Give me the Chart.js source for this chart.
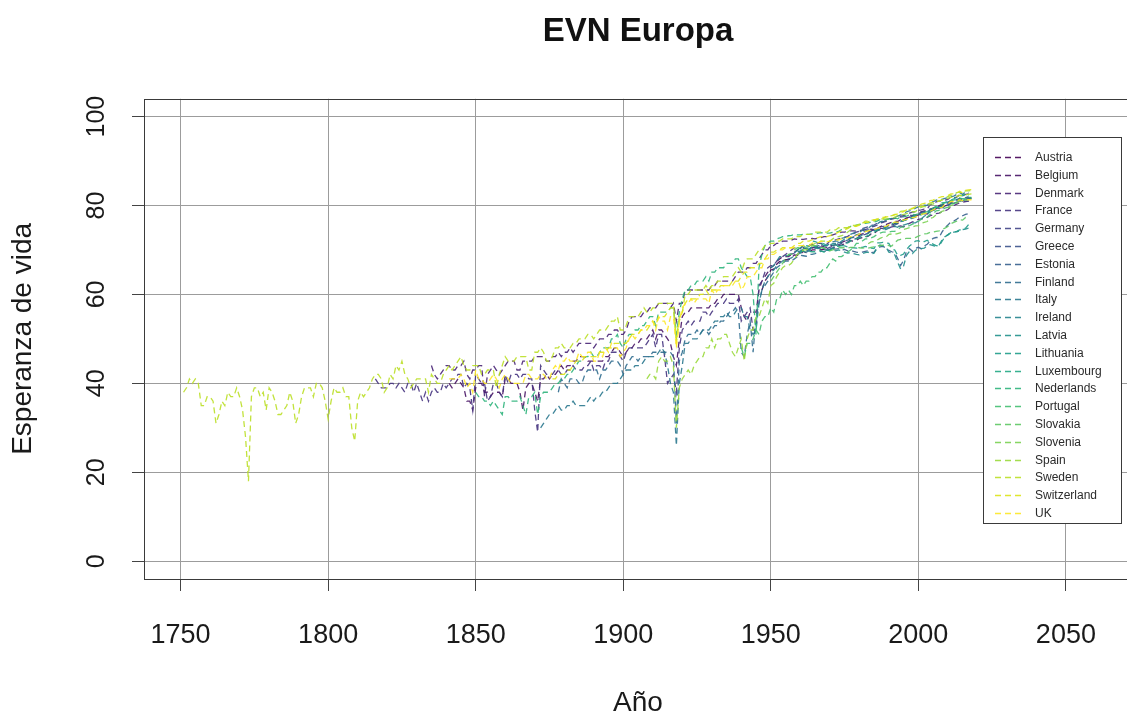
<!DOCTYPE html>
<html>
<head>
<meta charset="utf-8">
<title>EVN Europa</title>
<script src="https://cdn.jsdelivr.net/npm/chart.js@4.4.1/dist/chart.umd.min.js"></script>
<style>
  html, body { margin: 0; padding: 0; background: #ffffff; overflow: hidden; }
  canvas { display: block; }
</style>
</head>
<body>
<canvas id="evn" width="1140" height="715"></canvas>
<script>
// Life expectancy at birth (years), one annual series per country.
const countries = ['Austria', 'Belgium', 'Denmark', 'France', 'Germany', 'Greece', 'Estonia',
  'Finland', 'Italy', 'Ireland', 'Latvia', 'Lithuania', 'Luxembourg', 'Nederlands', 'Portugal',
  'Slovakia', 'Slovenia', 'Spain', 'Sweden', 'Switzerland', 'UK'];

// First year of each series (same order as countries)
const startYears = [1947, 1841, 1835, 1816, 1956, 1981, 1959, 1878, 1872, 1950, 1959, 1959,
  1960, 1850, 1940, 1950, 1983, 1908, 1751, 1876, 1841];

const austria = [61,63,64,65.5,
  65.7,66.8,67.4,67.3,67.8,67.8,68.2,68.9,68.8,69,
  69.7,69.4,69.5,70,70,70.2,70,70.2,70,70.1,
  70.4,70.7,71,71.1,71.4,71.6,72.1,72,72.2,72.6,
  72.8,72.9,73.1,73.6,73.7,74.3,74.6,75,75.2,75.5,
  75.7,75.9,76,76.4,76.8,77,77.4,77.7,77.9,78.2,
  78.6,78.8,78.7,79.2,79.4,79.8,80,80.2,80.1,80.6,
  81,81,81.2,81.6,81.2,81.7,81.7,81.8];

const belgium = [40,39,40,41,40,39,36,36,34,39,
  40,40,38,38,37,38,38,38,37,41,
  41,40,40,40,38,34,39,40,40,38,
  36,41,41,42,41,42,42,43,44,43,
  44,44,45,45,46,46,46,45,45,45,
  45,45,45,46,46,47,48,48,47,46,
  47,48,48,49,49,50,50,50,51,52,
  50,52,52,51,50,49,46,44,50,55,
  56,56,57,57,57,57,57,57,57,58,
  58,59,59,60,60,60,60,60,60,57,
  55,54,56,56,56,61,63,64,65,66,
  66.5,67.5,68,68.5,68.5,68.5,69,69.5,70,70.3,
  70.5,70.3,70,70.5,70.6,70.7,71,70.7,70.6,71,
  71,71.2,71.5,71.7,72,72.1,72.7,72.9,73.2,73.3,
  73.6,73.8,74,74.3,74.5,74.8,75.2,75.5,75.7,76,
  76.2,76.4,76.4,76.8,76.9,77.2,77.4,77.5,77.6,77.9,
  78.1,78.2,78.1,78.8,78.9,79.3,79.6,79.5,79.9,80.1,
  80.5,80.5,80.7,81.3,81,81.4,81.5,81.6];

const denmark = [44,42,41,42,43,44,
  44,43,43,44,44,45,42,41,43,43,
  44,44,37,42,43,44,43,42,43,44,
  45,45,45,43,43,45,45,45,45,46,
  46,46,46,45,45,46,46,47,46,47,
  47,48,47,48,49,49,49,49,49,48,
  49,50,50,50,51,51,52,52,51,51,
  52,54,55,55,55,55,56,56,57,57,
  57,58,58,58,58,57,58,54,58,58,
  61,61,61,61,61,61,61,61,61,62,
  62,63,63,63,63,63,63,64,65,65,
  65,66,66,67,67,68,69,70,70,71,
  71,71.5,71.5,72,72,72,72.2,72.5,72.4,72.4,
  72.4,72.5,72.5,72.6,72.5,72.7,72.8,73,73,73.2,
  73.4,73.6,73.8,74,74,74.2,74.3,74.3,74.2,74.3,
  74.5,74.5,74.6,74.7,74.6,74.8,74.9,74.8,74.9,75,
  75.2,75.3,75.2,75.4,75.2,75.6,76,76.3,76.5,76.9,
  77,77.1,77.3,77.7,77.9,78.2,78.3,78.6,78.8,79.1,
  79.7,80,80.3,80.6,80.7,80.9,81,81];

const france = [41,40,39,39,39,
  40,40,39,40,39,38,40,40,38,40,
  38,36,38,36,38,39,38,38,40,39,
  40,41,41,42,42,39,40,39,34,42,
  41,40,40,36,37,40,40,38,37,42,
  40,42,42,42,41,42,42,41,41,34,
  29,44,43,42,42,42,43,43,42,42,
  43,43,44,43,43,43,44,44,45,43,
  44,44,43,45,45,47,47,47,46,45,
  47,48,48,48,48,48,48,49,50,51,
  48,51,51,46,40,41,42,38,48,52,
  53,54,53,54,54,54,56,56,55,56,
  57,58,58,58,59,58,58,58,59,54,
  55,56,57,52,52,62,63,65,66,66.5,
  66.5,67.5,68,68.5,69,69.5,70,70.5,70.5,70.3,
  71,70.8,71,71.3,71,71.5,71.5,71.5,71.3,72,
  72,72.3,72.5,72.7,72.9,73,73.5,73.7,74,74.2,
  74.3,74.6,74.8,75.2,75.3,75.6,76,76.2,76.4,76.8,
  77,77.1,77.2,77.6,77.7,78,78.3,78.5,78.6,78.9,
  79,79.2,79.2,80.2,80.3,80.8,81,81.1,81.2,81.4,
  81.9,81.7,81.9,82.4,82.2,82.5,82.6,82.7];

const germany = [68.9,69.1,69.2,69.5,69.6,
  70,70,70.2,70.5,70.5,70.6,70.7,70.3,70.3,70.6,
  70.8,71,71.2,71.4,71.4,71.8,72.3,72.4,72.6,73,
  73.3,73.5,73.8,74.3,74.5,74.7,75.1,75.3,75.3,75.4,
  75.6,76,76,76.4,76.6,76.9,77.3,77.6,77.8,78.1,
  78.5,78.5,78.5,79,79.1,79.5,79.8,79.9,80,80.1,
  80.5,80.5,80.6,81.1,80.7,81,81];

const greece = [74.8,75,75.2,75.6,75.6,76,76.1,76.3,76.6,76.8,
  77,77.1,77.3,77.4,77.5,77.6,77.8,77.8,77.8,78,
  78.5,78.6,78.7,79,79.3,79.5,79.3,79.8,80.1,80.4,
  80.7,80.7,81.3,81.3,81.1,81.4,81.4];

const estonia = [69,69.5,
  69.8,69.8,70,70.8,70.5,70.4,70.7,70.3,70,70.2,
  70.3,70.2,70.3,70,70.1,69.8,69.9,69.7,69.5,69.4,
  69.5,69.7,69.8,69.4,69.5,70.3,70.7,70.8,70.5,69.9,
  69.6,69.4,68.1,66.5,67.7,69.7,70.3,69.7,70.4,70.6,
  70.3,70.9,71.3,72,72.6,72.8,72.8,74,75,75.6,
  76.3,76.5,76.9,77.4,77.7,78,78.2];

const finland = [38,41,40,
  39,41,41,41,40,40,42,43,43,43,
  43,41,43,43,44,45,45,45,44,42,
  44,45,46,46,45,46,46,46,46,47,
  47,47,47,47,47,47,46,31,45,47,
  50,51,51,51,52,51,52,52,51,52,
  53,53,54,54,55,56,56,57,56,47,
  46,51,54,47,55,58,61,62,63,64,
  65,66,66.5,67,67.5,67.5,67.5,68,68.5,68.8,
  68.7,68.6,69,69,69.2,69.5,69.7,69.7,69.8,70.2,
  70.4,71.2,71.7,71.5,72,72.2,72.7,73.1,73.4,73.6,
  74,74.2,74.5,74.5,74.4,74.6,74.7,74.8,74.9,75,
  75.4,75.6,75.9,76.5,76.6,76.8,77,77.1,77.4,77.6,
  78.1,78.3,78.5,78.8,78.9,79.2,79.4,79.6,79.8,80,
  80.4,80.6,81,81.3,81.6,81.4,81.6,81.7];

const italy = [30,31,32,33,33,34,35,34,34,
  35,35,36,35,35,35,35,36,37,36,
  37,37,38,38,39,40,40,40,41,42,
  43,43,43,44,44,44,45,46,46,46,
  46,47,48,47,44,40,38,26,40,44,
  49,49,50,50,50,51,52,52,52,53,
  54,54,55,55,56,55,55,56,57,57,
  55,55,52,51,52,58,61,63,64,65,
  65.5,66.5,67,67.5,68,68,68.2,68.8,69,69.3,
  69.6,69.5,69.8,70.3,70.4,71,71,71,71,71.4,
  71.8,72,72,72.6,72.8,73,73.5,73.8,74,74,
  74.4,74.8,74.9,75.4,75.4,75.8,76.3,76.5,76.8,77,
  77.1,77.4,77.6,77.9,78.2,78.6,78.8,79,79.4,79.7,
  80,80.1,80,80.8,80.8,81.2,81.3,81.4,81.6,81.8,
  82,82.1,82.5,82.9,82.5,83.1,82.9];

const ireland = [66,
  66.5,67.5,68.5,68.5,68.7,68.8,69.3,69.3,70,70.1,
  70.4,70.3,70.5,71,70.8,70.9,71.4,71,71,71.1,
  71.4,71.5,71.5,72,72.4,72.2,72.8,72.8,72.7,72.9,
  73.4,73.4,73.7,74.2,73.9,74.4,74.6,74.6,74.6,74.9,
  75.1,75.3,75.1,75.7,75.6,75.8,76.1,76.1,76.1,76.5,
  77,77.6,78,78.5,79,79.3,79.6,79.9,80.4,80.8,
  81.1,81.2,81.4,81.5,81.6,81.8,82];

const latvia = [69.6,69.8,
  70.2,70,70.2,70.8,70.5,70.3,70.4,70.2,69.9,69.9,
  70,69.8,70,69.8,69.5,69.3,69.4,69.2,69,68.9,
  69.2,69.4,69.5,69.1,69.3,70.5,71.1,70.9,70.7,69.5,
  69.3,68.9,67.2,65.7,66.4,68.8,69.7,69.2,69.9,70.3,
  70.3,70.4,71,71.2,71,70.8,71.1,72.2,73,73.4,
  73.9,74,74.1,74.3,74.6,74.7,74.9];

const lithuania = [70.1,70.5,
  71,71,70.8,72,71.9,71.6,71.6,71.4,71,70.9,
  71.1,71.1,71.2,71,70.9,70.7,70.5,70.5,70.4,70.5,
  70.6,70.8,70.6,70.4,70.3,71.6,71.6,71.7,71.6,71.5,
  70.2,70,68.8,68.8,69.1,70.1,70.9,71.4,72,72.1,
  71.7,71.9,72.2,71.6,71.3,71,70.9,71.9,73,73.4,
  73.9,74.1,74.2,74.5,74.6,74.9,75.7];

const luxembourg = [69.5,
  69.8,69.4,69.7,69.6,69.6,69.8,69.8,69.5,69.5,70,
  70.3,70.8,70.8,71,71.3,71.6,72,72.4,72.5,72.7,
  72.8,73,73.2,73.6,74,74.4,74.6,74.7,75.2,75.6,
  75.9,76.2,76,76.4,76.6,76.8,77.1,77.4,77.8,78,
  77.9,78.2,77.8,79.2,79.5,79.6,79.5,80.6,80.7,80.9,
  81.2,81.5,81.9,82.3,82.2,82.7,82.1];

const nederlands = [38,
  37,37,36,36,35,36,35,34,33,37,
  37,36,36,36,37,35,33,37,37,38,
  33,37,38,38,38,39,40,40,41,41,
  42,42,43,44,45,45,46,46,47,46,
  46,47,48,48,48,50,50,51,49,48,
  50,51,51,52,52,53,53,54,55,55,
  53,56,56,56,56,57,57,51,56,59,
  61,61,62,62,63,63,63,64,63,65,
  65,66,66,66,67,67,67,68,68,66,
  65,64,64,60,51,66,69,71,71.5,72,
  72,72.5,72.7,73,73,73.2,73.3,73.5,73.4,73.4,
  73.5,73.5,73.5,73.6,73.7,73.8,73.9,73.8,73.8,73.8,
  74,74,74.2,74.6,74.8,74.9,75.3,75.3,75.6,75.7,
  75.9,76,76.1,76.2,76.3,76.5,76.8,76.8,76.8,77,
  77.1,77.2,77,77.5,77.5,77.6,77.9,78,77.9,78.1,
  78.3,78.4,78.6,79.1,79.4,79.8,80.2,80.3,80.6,80.8,
  81.1,81.2,81.4,81.7,81.5,81.6,81.8,81.8];

const portugal = [48,
  46,49,49,50,52,51,54,55,55,57,
  56,59,59,61,60,61,60,62,62,63,
  62,63,63,64,64,65,65,66,66,67,
  68,67.5,68.5,68.5,69,69.5,70,70.5,71.5,71.5,
  72,72.5,72.5,72.7,73,73.5,73.8,74,74,74,
  74.2,74.2,74.6,75.1,75.2,75.3,75.5,75.8,76.1,76.4,
  76.9,77.2,77.4,78,78.1,78.8,78.9,79.1,79.4,79.6,
  80.4,80.4,80.8,81,81.1,81.4,81.5,81.5];

const slovakia = [63,
  64,65,66,67,68,69,69,70,70.5,70.5,
  71,70.5,71,71,71,71,70.5,70.5,69.8,69.8,
  70,70.2,70.5,70.5,70.5,70.4,70.6,70.6,70.6,70.5,
  70.4,70.5,70.4,70.6,70.7,70.9,71,71.1,71.2,71,
  70.9,71.6,72.2,72.4,72.5,72.6,72.6,72.6,72.8,73.1,
  73.4,73.6,73.7,74,74,74.2,74.3,74.6,74.9,75.3,
  75.9,76.2,76.5,76.8,76.7,77.3,77.3];

const slovenia = [71.4,71.8,71.9,72.2,72.6,72.9,72.9,73.5,
  73.6,73.5,73.7,73.9,74.6,74.8,75,75.2,75.4,75.5,
  76,76.2,76.4,77.1,77.3,77.9,78.1,78.7,78.9,79.4,
  80,80.2,80.5,81.1,80.9,81.2,81.3];

const spain = [41,42,42,
  41,45,46,45,45,46,44,30,39,41,
  42,43,42,44,45,46,46,48,48,50,
  48,50,50,51,51,49,47,46,48,50,
  45,50,52,52,55,55,57,59,58,62,
  62.5,64,65,66,66.5,66.5,67,68,69,69.5,
  70,70,70.5,71,71.5,71.5,72,72,72,72,
  72.5,73,73,73.2,73.5,74,74.5,75,75.5,75.8,
  76,76.2,76.3,76.6,76.5,76.8,77,76.9,77,77,
  77.1,77.4,77.7,77.9,78,78.2,78.4,78.6,78.6,79.2,
  79.6,79.8,79.6,80.3,80.3,80.9,81,81.3,81.6,82,
  82.3,82.4,82.9,83,82.8,83.3,83.3,83.4];

const sweden = [38,39,41,40,41,40,35,35,37,37,
  36,31,33,36,35,38,37,37,39,37,
  34,28,18,37,39,39,37,38,34,39,
  38,36,33,33,34,35,38,36,31,33,
  37,39,39,39,37,40,40,39,36,32,
  36,39,38,38,39,37,37,30,27,36,
  38,37,38,39,41,42,42,41,38,39,
  42,41,44,43,45,42,41,39,40,41,
  41,41,41,38,42,41,40,40,42,43,
  44,43,44,45,46,44,43,43,44,44,
  44,42,42,43,43,43,39,42,44,46,
  45,45,45,46,46,46,46,43,43,47,
  47,48,47,45,45,46,48,48,49,48,
  48,48,49,49,50,50,50,51,51,50,
  51,52,52,52,53,54,54,55,52,52,
  53,55,55,55,55,56,57,56,56,57,
  57,58,58,58,58,58,58,50,55,56,
  60,60,61,61,61,61,61,62,61,62,
  62,63,63,64,64,64,64,65,66,65,
  67,68,68,68,69,70,70,71,71,71.5,
  71.5,72,72,72.5,72.5,72.5,72.5,73,73,73,
  73.5,73.5,73.5,73.5,74,74,74,74,74,74.5,
  74.5,74.5,75,75,75,75,75.5,75.5,75.5,75.8,
  76,76.5,76.5,76.7,76.7,77,77,77,77.5,77.6,
  77.7,78,78,78.7,78.8,79,79.1,79.3,79.4,79.7,
  79.8,79.9,80.2,80.6,80.7,80.8,81,81.2,81.4,81.6,
  81.9,81.8,82,82.3,82.2,82.4,82.5,82.6];

const switzerland = [41,41,42,42,42,
  43,43,44,45,45,45,46,46,46,46,
  46,47,47,47,48,48,49,49,49,49,
  49,50,51,51,51,52,52,52,53,54,
  53,55,55,55,56,57,57,49,54,56,
  58,59,59,59,59,60,60,61,60,61,
  61,61,62,62,62,62,63,63,63,64,
  65,65,66,66,66,67,67,68,69,69.5,
  69.5,70,70,70.5,70.5,70.5,70.5,71,71.5,71.5,
  72,72,72,72.3,72.5,72.8,73,73,73,73.2,
  73.5,73.7,74,74.3,74.5,74.8,75.2,75.3,75.3,75.6,
  75.8,76.2,76.2,76.6,76.8,76.9,77.3,77.3,77.4,77.5,
  77.7,77.9,78.1,78.4,78.6,79,79.2,79.4,79.7,79.9,
  80.3,80.5,80.6,81.1,81.2,81.6,81.8,82,82,82.2,
  82.6,82.6,82.8,83.2,82.8,83.4,83.5,83.6];

const uk = [41,41,41,41,42,41,39,40,38,43,
  41,41,40,40,41,42,41,39,41,42,
  41,40,40,40,40,40,42,42,41,41,
  41,42,42,41,41,43,44,43,45,45,
  46,45,45,45,47,46,46,47,47,45,
  45,47,46,48,47,49,48,48,46,47,
  48,50,51,50,51,52,52,53,53,54,
  52,55,54,54,52,55,55,48,54,57,
  58,58,59,58,59,59,59,59,58,61,
  60,61,61,62,62,62,62,63,63,61,
  62,64,64,64,65,66,66,68,68,69,
  69,69.5,70,70,70.5,70.5,70.5,70.5,71,71,
  71,71,71,71.5,71.8,71.6,72,71.8,71.8,72,
  72.2,72.2,72.3,72.5,72.6,72.7,73,73,73.2,73.6,
  74,74.1,74.3,74.5,74.6,74.8,75,75.2,75.3,75.7,
  75.9,76.3,76.2,76.7,76.7,76.9,77.1,77.3,77.4,77.8,
  78,78.2,78.3,78.7,79,79.3,79.5,79.6,80.2,80.4,
  80.9,80.9,81,81.3,81.1,81.2,81.3,81.3];

const seriesValues = [austria, belgium, denmark, france, germany, greece, estonia, finland,
  italy, ireland, latvia, lithuania, luxembourg, nederlands, portugal, slovakia, slovenia,
  spain, sweden, switzerland, uk];

// Axis ticks
const xTicks = [1750, 1800, 1850, 1900, 1950, 2000, 2050];
const yTicks = [0, 20, 40, 60, 80, 100];

// Viridis palette, one colour per country
const palette = ['#440154', '#471365', '#482475', '#463480', '#414487', '#3B528B', '#355F8D',
  '#2F6C8E', '#2A788E', '#25848E', '#21908C', '#1E9C89', '#22A884', '#2FB47C', '#43BF71',
  '#5DC863', '#7AD151', '#9AD93C', '#BBDF27', '#DDE318', '#FDE725'];

function withAlpha(hex, a) {
  const n = parseInt(hex.slice(1), 16);
  return `rgba(${(n >> 16) & 255},${(n >> 8) & 255},${n & 255},${a})`;
}

const FONT = '"Liberation Sans", Arial, Helvetica, sans-serif';
const DASH = [6, 4];

const datasets = countries.map((name, i) => ({
  label: name,
  data: seriesValues[i].map((v, k) => ({ x: startYears[i] + k, y: v })),
  borderColor: withAlpha(palette[i], 0.9),
  borderWidth: 1.3,
  borderDash: DASH,
  pointRadius: 0,
  tension: 0,
  fill: false,
  order: countries.length - i
}));

// Frame around the plotting region
const frame = {
  id: 'frame',
  afterDatasetsDraw(chart) {
    const { ctx, chartArea: a } = chart;
    ctx.save();
    ctx.strokeStyle = '#3a3a3a';
    ctx.lineWidth = 1;
    ctx.setLineDash([]);
    ctx.strokeRect(Math.round(a.left) + 0.5, Math.round(a.top) + 0.5,
      Math.round(a.right - a.left), Math.round(a.bottom - a.top));
    ctx.restore();
  }
};

// Boxed legend with dashed samples, top right of the plot
const boxLegend = {
  id: 'boxLegend',
  afterDraw(chart) {
    const { ctx } = chart;
    const left = 983.5, top = 137.5, w = 138, h = 386, rowH = 17.8, firstY = 157;
    ctx.save();
    ctx.fillStyle = '#ffffff';
    ctx.fillRect(left, top, w, h);
    ctx.strokeStyle = '#3a3a3a';
    ctx.lineWidth = 1;
    ctx.strokeRect(left, top, w, h);
    ctx.font = '12px ' + FONT;
    ctx.textBaseline = 'middle';
    ctx.textAlign = 'left';
    chart.data.datasets.forEach((ds, i) => {
      const y = Math.round(firstY + i * rowH) + 0.5;
      ctx.strokeStyle = ds.borderColor;
      ctx.lineWidth = 1.3;
      ctx.setLineDash(DASH);
      ctx.beginPath();
      ctx.moveTo(995, y);
      ctx.lineTo(1024, y);
      ctx.stroke();
      ctx.setLineDash([]);
      ctx.fillStyle = '#2b2b2b';
      ctx.fillText(ds.label, 1035, y);
    });
    ctx.restore();
  }
};

new Chart(document.getElementById('evn'), {
  type: 'line',
  data: { datasets },
  plugins: [frame, boxLegend],
  options: {
    responsive: false,
    animation: false,
    events: [],
    layout: { padding: { left: 0, right: 8, top: 0, bottom: 0 } },
    plugins: {
      legend: { display: false },
      tooltip: { enabled: false },
      title: {
        display: true,
        text: 'EVN Europa',
        fullSize: false,
        color: '#111111',
        font: { family: FONT, size: 33, weight: 'bold', lineHeight: 1.2 },
        padding: { top: 12, bottom: 47.2 }
      }
    },
    scales: {
      x: {
        type: 'linear',
        position: 'bottom',
        min: 1737.6,
        max: 2072.4,
        afterFit(scale) { scale.height = 136; },
        afterBuildTicks(scale) { scale.ticks = xTicks.map(v => ({ value: v })); },
        border: { display: false },
        grid: {
          color: '#9c9c9c',
          lineWidth: 1,
          drawTicks: true,
          tickLength: 12,
          tickColor: '#444444',
          tickWidth: 1
        },
        ticks: {
          autoSkip: false,
          maxRotation: 0,
          padding: 28,
          color: '#1a1a1a',
          font: { family: FONT, size: 27 },
          callback: v => String(v)
        },
        title: {
          display: true,
          text: 'Año',
          color: '#1a1a1a',
          font: { family: FONT, size: 28, lineHeight: 0.8 },
          padding: { top: 0, bottom: 1 }
        }
      },
      y: {
        type: 'linear',
        position: 'left',
        min: -4,
        max: 104,
        afterFit(scale) { scale.width = 144; },
        afterBuildTicks(scale) { scale.ticks = yTicks.map(v => ({ value: v })); },
        border: { display: false },
        grid: {
          color: '#9c9c9c',
          lineWidth: 1,
          drawTicks: true,
          tickLength: 12,
          tickColor: '#444444',
          tickWidth: 1
        },
        ticks: {
          autoSkip: false,
          minRotation: 90,
          maxRotation: 90,
          crossAlign: 'center',
          padding: 14,
          color: '#1a1a1a',
          font: { family: FONT, size: 25 },
          callback: v => String(v)
        },
        title: {
          display: true,
          text: 'Esperanza de vida',
          color: '#1a1a1a',
          font: { family: FONT, size: 28, lineHeight: 1.2 },
          padding: { top: 6, bottom: 0 }
        }
      }
    }
  }
});
</script>
</body>
</html>
